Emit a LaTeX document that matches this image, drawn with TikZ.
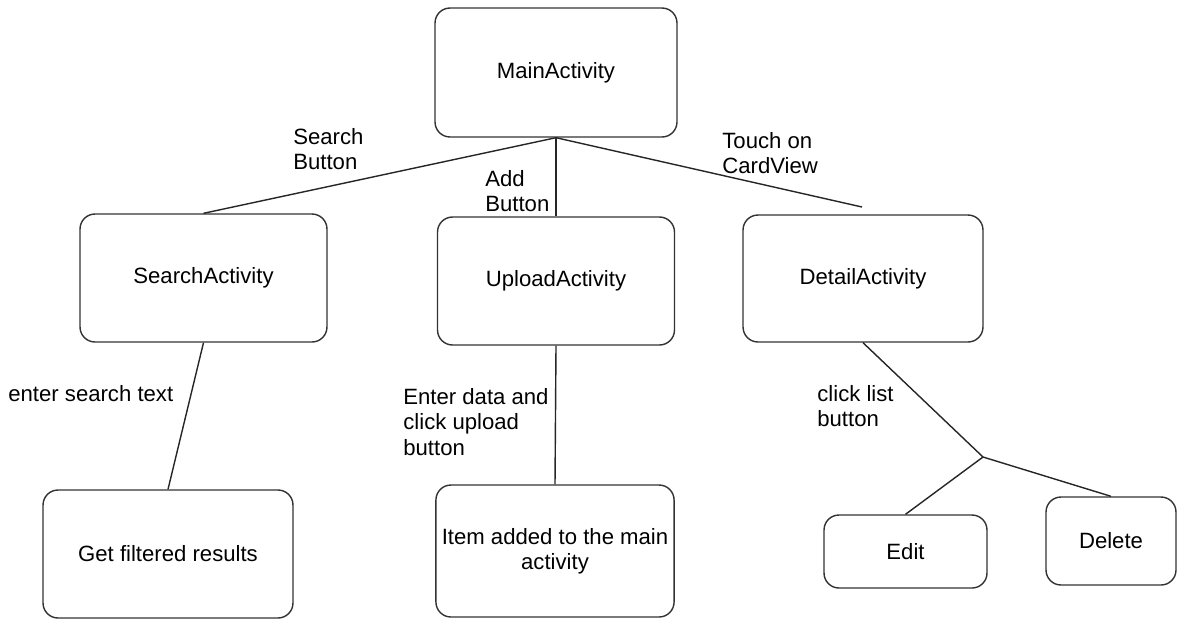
\documentclass[tikz,border=0pt]{standalone}
\usepackage{fontspec}
\setmainfont{Liberation Sans}
\usetikzlibrary{positioning}

\begin{document}
\begin{tikzpicture}[x=0.02cm, y=-0.02cm,
  box/.style={draw=black!80, line width=0.8pt, rounded corners=0.3cm, align=center,
              font=\fontsize{12.6}{14.5}\selectfont},
  lbl/.style={anchor=north west, inner sep=0pt, align=left,
              font=\fontsize{12.6}{14.5}\selectfont},
  link/.style={draw=black!85, line width=0.8pt},
]
\useasboundingbox (0,0) rectangle (1179,620);

\node[box, minimum width=4.84cm, minimum height=2.58cm] (main) at (556,72.5) {MainActivity};
\node[box, minimum width=4.94cm, minimum height=2.56cm] (search) at (203.5,278) {SearchActivity};
\node[box, minimum width=4.74cm, minimum height=2.56cm] (upload) at (556,281) {UploadActivity};
\node[box, minimum width=4.8cm, minimum height=2.54cm] (detail) at (863,278.5) {DetailActivity};
\node[box, minimum width=5cm, minimum height=2.56cm] (filtered) at (168,554) {Get filtered results};
\node[box, minimum width=4.76cm, minimum height=2.64cm] (item) at (555,551) {Item added to the main\\activity};
\node[box, minimum width=3.26cm, minimum height=1.46cm] (edit) at (905.5,551.5) {Edit};
\node[box, minimum width=2.6cm, minimum height=1.76cm] (delete) at (1111,541) {Delete};

\coordinate (touchend) at (862,207);
\coordinate (fork) at (983,457);

\draw[link] (main.south) -- (search.north);
\draw[link] (main.south) -- (upload.north);
\draw[link] (main.south) -- (touchend);
\draw[link] (search.south) -- (filtered.north);
\draw[link] (upload.south) -- (item.north);
\draw[link] (detail.south) -- (fork);
\draw[link] (fork) -- (edit.north);
\draw[link] (fork) -- (delete.north);

\node[lbl] (lblsearch) at (293,128) {Search\\Button};
\node[lbl] (lbladd) at (485,170) {Add\\Button};
\node[lbl] (lbltouch) at (722,132) {Touch on\\CardView};
\node[lbl] (lblenter) at (8,385) {enter search text};
\node[lbl] (lblupload) at (403,388) {Enter data and\\click upload\\button};
\node[lbl] (lblclick) at (817,385) {click list\\button};
\end{tikzpicture}
\end{document}
